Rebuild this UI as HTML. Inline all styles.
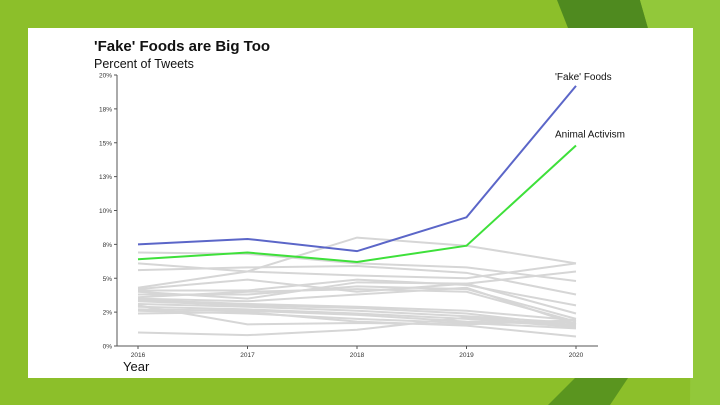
<!DOCTYPE html>
<html><head><meta charset="utf-8"><style>
body{margin:0;width:720px;height:405px;overflow:hidden;font-family:"Liberation Sans",sans-serif}
svg{display:block}
</style></head><body>
<svg id="s" width="720" height="405">
<rect width="720" height="405" fill="#8cbf2a"/>
<polygon points="557,0 640,0 648,28 568,28" fill="#4f8a1f"/>
<polygon points="640,0 720,0 720,405 690,405 693,28 648,28" fill="#92c83a"/>
<polygon points="548,405 575,378 628,378 610,405" fill="#5a951f"/>
<rect x="28" y="28" width="665" height="350" fill="#fff"/>
<text x="94" y="51" font-size="15" font-weight="bold" fill="#111">'Fake' Foods are Big Too</text>
<text x="94" y="68" font-size="12.5" fill="#111">Percent of Tweets</text>
<text x="123" y="371" font-size="13" fill="#111">Year</text>
<g id="grid"></g><g id="gray"></g><g id="main"></g><g id="axes"></g>
</svg>
<script>
const years=[2016,2017,2018,2019,2020];
const yTicks=[0,2.5,5,7.5,10,12.5,15,17.5,20];
const yTickLabels=["0%","2%","5%","8%","10%","13%","15%","18%","20%"];
const fakeFoods=[7.5,7.9,7.0,9.5,19.2];
const animalActivism=[6.4,6.9,6.2,7.4,14.8];
const otherTopics=[
[4.3,5.5,8.0,7.4,6.1],
[6.9,6.8,6.1,5.8,4.8],
[6.1,5.5,5.2,5.0,6.1],
[5.6,5.8,5.9,5.4,3.8],
[4.2,4.9,4.0,4.6,5.5],
[4.1,4.1,4.9,4.5,3.0],
[4.0,3.5,4.7,4.6,2.4],
[3.8,3.8,4.4,4.2,2.0],
[3.6,4.0,4.2,4.0,1.8],
[3.5,3.3,3.8,4.3,1.6],
[3.4,3.1,2.9,2.6,1.9],
[3.3,3.0,2.8,2.4,1.5],
[3.1,2.9,2.6,2.2,1.7],
[2.9,2.7,2.4,2.0,1.4],
[2.7,2.6,2.3,1.8,1.6],
[2.6,2.4,2.0,1.7,1.3],
[3.0,1.6,1.7,1.6,1.9],
[2.4,2.5,1.8,1.5,0.7],
[1.0,0.8,1.2,2.1,1.5]
];
const NS="http://www.w3.org/2000/svg";
const x=i=>138+i*(576-138)/4;
const y=v=>346-v*(346-75)/20;
function el(t,a,p){const e=document.createElementNS(NS,t);for(const k in a)e.setAttribute(k,a[k]);document.getElementById(p).appendChild(e);return e;}
function pts(arr){return arr.map((v,i)=>x(i)+","+y(v)).join(" ");}
otherTopics.forEach((s,k)=>{const e=el("polyline",{points:pts(s),fill:"none",stroke:"#d6d6d6","stroke-width":2},"gray");

});
let a=el("polyline",{points:pts(animalActivism),fill:"none",stroke:"#3ee03a","stroke-width":2},"main");


let f=el("polyline",{points:pts(fakeFoods),fill:"none",stroke:"#5b66c8","stroke-width":2},"main");


let lf=el("text",{x:x(4)-21,y:y(fakeFoods[4])-6,"font-size":10,fill:"#111"},"main");lf.textContent="'Fake' Foods";


let la=el("text",{x:x(4)-21,y:y(animalActivism[4])-8,"font-size":10,fill:"#111"},"main");la.textContent="Animal Activism";


let ya=el("line",{x1:117,y1:y(20),x2:117,y2:346,stroke:"#555","stroke-width":1},"axes");


let xa=el("line",{x1:117,y1:346,x2:598,y2:346,stroke:"#555","stroke-width":1},"axes");


yTicks.forEach((t,i)=>{el("line",{x1:114,x2:117,y1:y(t),y2:y(t),stroke:"#555"},"axes");
const e=el("text",{x:112,y:y(t)+2.5,"font-size":6.5,"text-anchor":"end",fill:"#333"},"axes");e.textContent=yTickLabels[i];

});
years.forEach((yr,i)=>{el("line",{x1:x(i),x2:x(i),y1:346,y2:349,stroke:"#555"},"axes");
const e=el("text",{x:x(i),y:357,"font-size":6.5,"text-anchor":"middle",fill:"#333"},"axes");e.textContent=yr;

});
</script>
</body></html>
